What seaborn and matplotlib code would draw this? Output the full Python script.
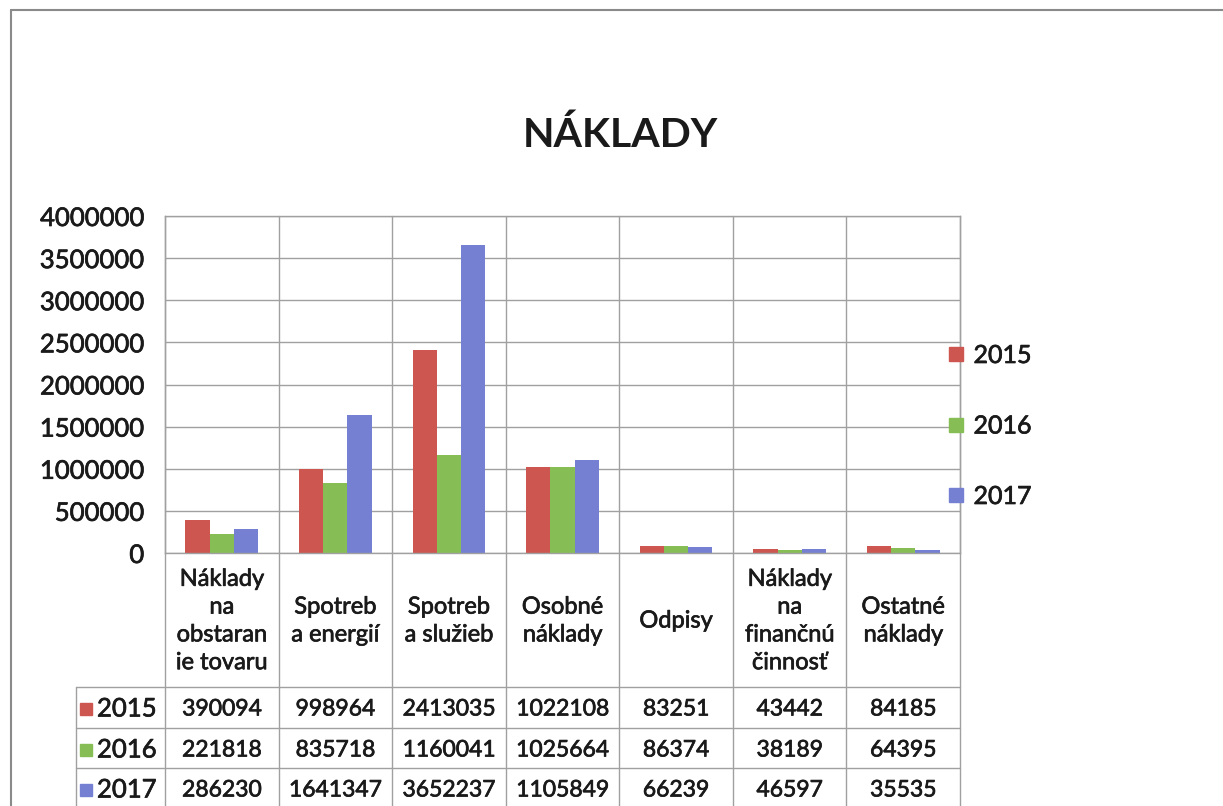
import pandas as pd
import seaborn as sns
import matplotlib
matplotlib.use("Agg")
import matplotlib.pyplot as plt
from matplotlib.lines import Line2D
import matplotlib.transforms as mtransforms
import matplotlib.patheffects as pe

categories = ["Náklady\nna\nobstaran\nie tovaru", "Spotreb\na energií", "Spotreb\na služieb",
              "Osobné\nnáklady", "Odpisy", "Náklady\nna\nfinančnú\nčinnosť", "Ostatné\nnáklady"]
years = ["2015", "2016", "2017"]
v2015 = [390094, 998964, 2413035, 1022108, 83251, 43442, 84185]
v2016 = [221818, 835718, 1160041, 1025664, 86374, 38189, 64395]
v2017 = [286230, 1641347, 3652237, 1105849, 66239, 46597, 35535]
colors = {"2015": "#CD5651", "2016": "#86BE55", "2017": "#7580D2"}

rows = []
for yr, vals in zip(years, [v2015, v2016, v2017]):
    for c, v in zip(categories, vals):
        rows.append({"Kategoria": c, "Rok": yr, "Hodnota": v})
df = pd.DataFrame(rows)

sns.set_style("white")
plt.rcParams['font.family'] = ['Lato', 'DejaVu Sans']
txt = "#1a1a1a"
grid = "#A0A0A0"
heavy = [pe.withStroke(linewidth=0.5, foreground=txt)]  # scanned text looks thicker

W, H = 1223, 806
fig = plt.figure(figsize=(W / 100, H / 100), dpi=100)
# plot area in pixel coords of the reference
x0, x1, ytop, ybot = 165, 960, 216, 553
ax = fig.add_axes([x0 / W, 1 - ybot / H, (x1 - x0) / W, (ybot - ytop) / H])

sns.barplot(data=df, x="Kategoria", y="Hodnota", hue="Rok", palette=colors,
            width=0.64, saturation=1, ax=ax, legend=True, linewidth=0)

ax.set_ylim(0, 4000000)
ax.set_xlim(-0.5, len(categories) - 0.5)
ax.set_yticks(range(0, 4000001, 500000))
ax.set_yticklabels([str(t) for t in range(0, 4000001, 500000)], fontsize=18.5, color=txt)
for lab in ax.get_yticklabels():
    lab.set_path_effects(heavy)
ax.tick_params(axis="y", length=9, color=grid, width=1, pad=6)
ax.set_xticks([])
ax.set_xlabel("")
ax.set_ylabel("")
ax.yaxis.grid(True, color=grid, linewidth=1)
ax.set_axisbelow(True)
for s in ax.spines.values():
    s.set_color(grid)
    s.set_linewidth(1)

ph = ybot - ytop
def ay(px):
    # reference pixel row -> axes fraction
    return (ybot - px) / ph

def axx(px):
    return (px - x0) / (x1 - x0)

blend = mtransforms.blended_transform_factory(ax.transData, ax.transAxes)

# column lines running through plot and table
for i in range(len(categories) + 1):
    ax.plot([i - 0.5, i - 0.5], [1, ay(H)], transform=blend, color=grid,
            linewidth=1, clip_on=False, zorder=0)

# category labels
for i, c in enumerate(categories):
    ax.text(i, ay(621), c, transform=blend, ha="center", va="center",
            fontsize=17, color=txt, linespacing=1.4, path_effects=heavy)

# data table
row_lines = [687, 728, 768]
for r in row_lines:
    ax.plot([axx(76), 1], [ay(r), ay(r)], transform=ax.transAxes, color=grid,
            linewidth=1, clip_on=False)
ax.plot([axx(76), axx(76)], [ay(687), ay(H)], transform=ax.transAxes, color=grid,
        linewidth=1, clip_on=False)

row_y = [709, 750, 790]
for yr, vals, ry in zip(years, [v2015, v2016, v2017], row_y):
    ax.plot([axx(86)], [ay(ry)], transform=ax.transAxes, marker="s", markersize=9,
            color=colors[yr], clip_on=False, linestyle="none")
    ax.text(axx(97), ay(ry), yr, transform=ax.transAxes, ha="left", va="center",
            fontsize=18.5, color=txt, path_effects=heavy)
    for i, v in enumerate(vals):
        ax.text(i, ay(ry), str(v), transform=blend, ha="center", va="center",
                fontsize=16.5, color=txt, path_effects=heavy)

# legend on the right
handles = [Line2D([], [], marker="s", linestyle="none", markersize=10,
                  color=colors[y]) for y in years]
leg = ax.legend(handles, years, frameon=False, fontsize=18, labelcolor=txt,
                loc="center left", bbox_to_anchor=(axx(946), ay(426)),
                labelspacing=1.9, handlelength=0.8, handletextpad=0.3,
                borderaxespad=0, borderpad=0)
for t in leg.get_texts():
    t.set_path_effects(heavy)

fig.text(620 / W, 1 - 135 / H, "NÁKLADY", ha="center", va="center",
         fontsize=29.5, fontweight="bold", color=txt)

# scanned page frame
fig.add_artist(Line2D([11 / W, 1], [1 - 10 / H, 1 - 10 / H], color="#8A8A8A", linewidth=1.5))
fig.add_artist(Line2D([11 / W, 11 / W], [0, 1 - 10 / H], color="#8A8A8A", linewidth=1.5))

fig.savefig("out.png", dpi=100)
